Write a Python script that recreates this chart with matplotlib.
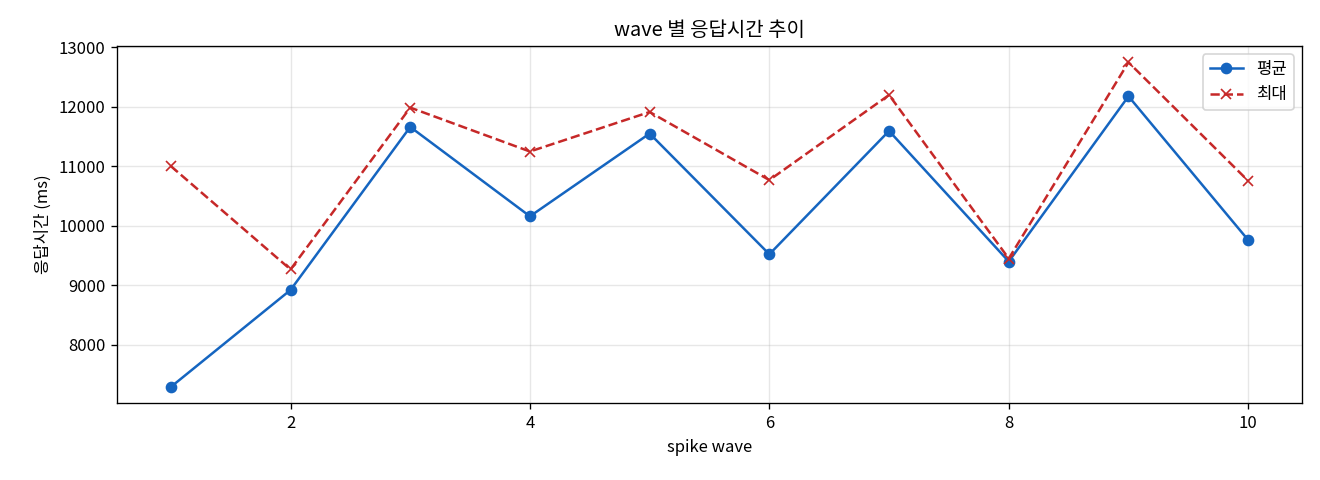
import matplotlib.pyplot as plt

plt.rcParams['font.family'] = ['Noto Sans CJK KR', 'DejaVu Sans']
plt.rcParams['axes.unicode_minus'] = False

waves = [1, 2, 3, 4, 5, 6, 7, 8, 9, 10]
avg_ms = [7288, 8918, 11658, 10156, 11547, 9518, 11591, 9396, 12173, 9757]
max_ms = [11000, 9263, 11983, 11245, 11909, 10765, 12195, 9446, 12744, 10752]

fig, ax = plt.subplots(figsize=(11, 4), dpi=120)
ax.plot(waves, avg_ms, marker='o', color='#1565C0', label='평균')
ax.plot(waves, max_ms, marker='x', linestyle='--', color='#C62828', label='최대')

ax.set_title('wave 별 응답시간 추이')
ax.set_xlabel('spike wave')
ax.set_ylabel('응답시간 (ms)')
ax.grid(True, alpha=0.3)
ax.legend(loc='upper right')

# 축 위치를 원본에 맞춤
fig.subplots_adjust(left=0.0886, right=0.9864, top=0.904, bottom=0.160)
plt.savefig('out.png')
